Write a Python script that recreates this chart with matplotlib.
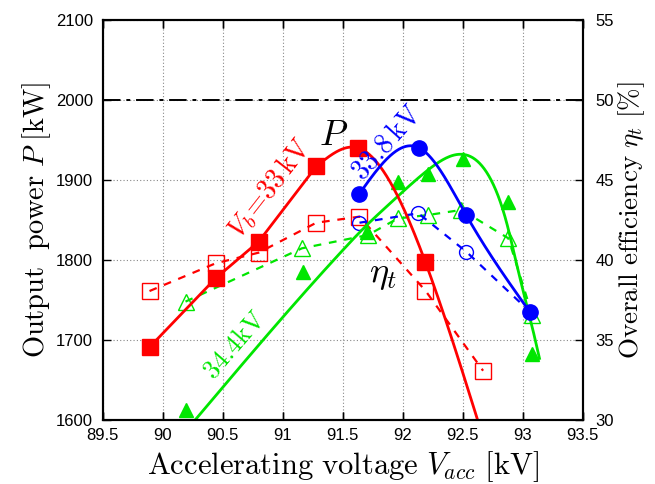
import numpy as np
import matplotlib
matplotlib.use("Agg")
import matplotlib.pyplot as plt

plt.rcParams['mathtext.fontset'] = 'cm'
plt.rcParams['font.family'] = ['Liberation Sans', 'DejaVu Sans']

# output power P [kW], filled markers (last 33 kV point lies below the axis)
p33_v = [89.89, 90.44, 90.80, 91.28, 91.63, 92.19, 92.67]
p33_p = [1691, 1777, 1823, 1917, 1940, 1797, 1578]
p338_v = [91.64, 92.14, 92.53, 93.06]
p338_p = [1883, 1940, 1856, 1735]
p344_v = [90.19, 91.17, 91.70, 91.96, 92.21, 92.50, 92.88, 93.08]
p344_p = [1612, 1785, 1835, 1897, 1908, 1926, 1873, 1682]
# fitted curve for 34.4 kV
p344_fit_v = [90.27, 91.53, 91.69, 91.86, 92.08, 92.25, 92.46, 92.64, 92.75, 92.86, 92.97, 93.07, 93.14]
p344_fit_p = [1600, 1817, 1842, 1866, 1896, 1917, 1932, 1921, 1896, 1850, 1782, 1722, 1677]

# overall efficiency eta_t [%], open markers
e33_v = [89.89, 90.44, 90.80, 91.28, 91.64, 92.19, 92.67]
e33_e = [38.06, 39.79, 40.46, 42.33, 42.71, 38.08, 33.08]
e338_v = [91.64, 92.13, 92.53, 93.06]
e338_e = [42.33, 42.92, 40.52, 36.77]
e344_v = [90.19, 91.16, 91.71, 91.96, 92.21, 92.49, 92.88, 93.08]
e344_e = [37.40, 40.73, 41.56, 42.60, 42.81, 43.13, 41.36, 36.56]

red = '#ff0000'
blue = '#0000ff'
green = '#00e600'


def spline(x, y, n=300):
    # natural cubic spline, like gnuplot's "smooth csplines"
    x = np.asarray(x, float)
    y = np.asarray(y, float)
    m = len(x)
    h = np.diff(x)
    A = np.zeros((m, m))
    r = np.zeros(m)
    A[0, 0] = A[-1, -1] = 1
    for i in range(1, m - 1):
        A[i, i - 1] = h[i - 1]
        A[i, i] = 2 * (h[i - 1] + h[i])
        A[i, i + 1] = h[i]
        r[i] = 6 * ((y[i + 1] - y[i]) / h[i] - (y[i] - y[i - 1]) / h[i - 1])
    M = np.linalg.solve(A, r)
    xs = np.linspace(x[0], x[-1], n)
    k = np.clip(np.searchsorted(x, xs) - 1, 0, m - 2)
    t0 = x[k + 1] - xs
    t1 = xs - x[k]
    hk = h[k]
    ys = (M[k] * t0**3 + M[k + 1] * t1**3) / (6 * hk) \
        + (y[k] / hk - M[k] * hk / 6) * t0 + (y[k + 1] / hk - M[k + 1] * hk / 6) * t1
    return xs, ys


fig = plt.figure(figsize=(6.55, 4.84), dpi=100)
ax2 = fig.add_axes([0.1568, 0.1322, 0.7328, 0.8265])
ax2.yaxis.tick_right()
ax2.yaxis.set_label_position('right')
ax = fig.add_axes([0.1568, 0.1322, 0.7328, 0.8265], sharex=ax2)
ax.patch.set_visible(False)

ax.set_xlim(89.5, 93.5)
ax.set_ylim(1600, 2100)
ax2.set_ylim(30, 55)
ax.set_xticks(np.arange(89.5, 93.51, 0.5))
ax.set_xticklabels(['89.5', '90', '90.5', '91', '91.5', '92', '92.5', '93', '93.5'])
ax.set_yticks(np.arange(1600, 2101, 100))
ax2.set_yticks(np.arange(30, 56, 5))
ax2.tick_params(labelbottom=False)

ax2.grid(True, color='#888888', linestyle=(0, (1, 2)), linewidth=0.8)
ax2.axhline(50, color='black', lw=1.4, linestyle=(0, (9, 3, 2, 3)))

# efficiency (dashed, open markers)
dash = (0, (3.5, 3.5))
ax2.plot(e344_v, e344_e, '^', color=green, mfc='none', ms=11, mew=1, ls=dash, lw=1.6)
ax2.plot(e33_v, e33_e, 's', color=red, mfc='none', ms=11.5, mew=1, ls=dash, lw=1.6)
ax2.plot(e338_v, e338_e, 'o', color=blue, mfc='none', ms=10, mew=1, ls=dash, lw=1.6)

# power (solid, filled markers)
xs, ys = spline(p344_fit_v, p344_fit_p)
ax.plot(xs, ys, color=green, lw=2)
ax.plot(p344_v, p344_p, '^', color=green, ms=10)
ax.plot(p33_v[:4], p33_p[:4], color=red, lw=2)
xs, ys = spline(p33_v[3:], p33_p[3:])
ax.plot(xs, ys, color=red, lw=2)
ax.plot(p33_v, p33_p, 's', color=red, ms=11.5)
xs, ys = spline(p338_v, p338_p)
ax.plot(xs, ys, color=blue, lw=2)
ax.plot(p338_v, p338_p, 'o', color=blue, ms=11)

ax.text(91.42, 1955, r'$P$', fontsize=26, ha='center', va='center')
ax.text(91.84, 1782, r'$\eta_t$', fontsize=26, ha='center', va='center')
ax.text(90.89, 1890, r'$V_b\!=\!33\,\mathrm{kV}$', color=red, fontsize=20,
        rotation=52, ha='center', va='center')
ax.text(91.87, 1946, r'$33.8\,\mathrm{kV}$', color=blue, fontsize=20,
        rotation=48, ha='center', va='center')
ax.text(90.60, 1694, r'$34.4\mathrm{kV}$', color=green, fontsize=19,
        rotation=49, ha='center', va='center')

for a in (ax, ax2):
    a.tick_params(direction='in', length=6, width=1, labelsize=12, top=True)
    for s in a.spines.values():
        s.set_linewidth(1.5)
ax.tick_params(right=False)
ax.tick_params(axis='y', pad=7)
ax2.tick_params(left=False)
ax2.tick_params(axis='y', pad=9)
ax.tick_params(axis='x', pad=6)

ax.set_xlabel(r'$\mathrm{Accelerating\ voltage}\ V_{acc}\ [\mathrm{kV}]$', fontsize=22)
ax.set_ylabel(r'$\mathrm{Output\ \ power}\ P\ [\mathrm{kW}]$', fontsize=20.5, labelpad=2)
ax2.set_ylabel(r'$\mathrm{Overall\ efficiency}\ \eta_t\ [\%]$', fontsize=19.5, labelpad=2)

fig.savefig('out.png', dpi=100)
